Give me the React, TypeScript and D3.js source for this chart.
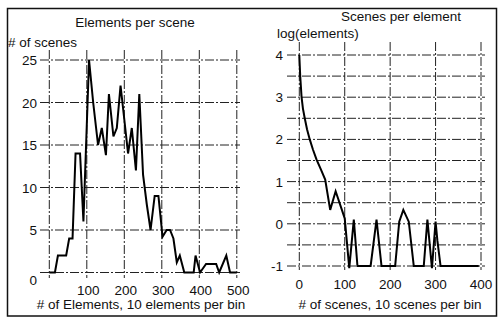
import React from "react";
import * as d3 from "d3";

// Left chart: Elements per scene
const leftX = [0, 15, 23, 45, 53, 62, 70, 82, 91, 106, 117, 130, 140, 151, 159, 171, 180, 190, 200, 210, 220, 231, 240, 250, 260, 270, 281, 291, 302, 313, 322, 331, 340, 348, 360, 385, 390, 402, 418, 445, 453, 472, 482, 500];
const leftY = [0, 0, 2, 2, 4, 4, 14, 14, 6, 25, 20, 15, 17, 13.8, 21, 16, 17, 22, 18, 14, 17, 12, 21, 11.5, 8, 5, 9, 9, 4.2, 5, 5, 4, 1.2, 2, 0, 0, 2, 0, 1, 1, 0, 2, 0, 0];
const leftYTicks = [5, 10, 15, 20, 25];
const leftYGrid = [0, 5, 10, 15, 20, 25];
const leftXTicks = [100, 200, 300, 400, 500];
const leftXGrid = [0, 100, 200, 300, 400, 500];

// Right chart: Scenes per element
const rightX = [0, 2, 5, 8, 12, 17, 23, 30, 38, 47, 57, 68, 80, 100, 110, 120, 128, 157, 170, 181, 211, 220, 229, 241, 252, 274, 282, 292, 300, 304, 311, 395];
const rightY = [4, 3.5, 3.0, 2.73, 2.5, 2.24, 2.0, 1.76, 1.52, 1.3, 1.05, 0.33, 0.77, 0.13, -1.05, 0.1, -1, -1, 0.1, -1, -1, 0.05, 0.33, 0.05, -1, -1, 0.1, -1.05, 0.05, -0.4, -1, -1];
const rightYTicks = [-1, 0, 1, 2, 3, 4];
const rightYGrid = [-1, -0.5, 0, 0.5, 1, 1.5, 2, 2.5, 3, 3.5, 4];
const rightXTicks = [0, 100, 200, 300, 400];

const FONT = "'Liberation Sans', Arial, Helvetica, sans-serif";
const DASH = "9,2,2,2";
const GRID = "#222";

export default function App() {
  const xL = d3.scaleLinear().domain([0, 500]).range([49.3, 236.8]);
  const yL = d3.scaleLinear().domain([0, 25]).range([272.5, 60]);
  const xR = d3.scaleLinear().domain([0, 400]).range([299.3, 481]);
  const yR = d3.scaleLinear().domain([-1, 4]).range([266, 55]);

  const lineL = d3
    .line<number>()
    .x((_, i) => xL(leftX[i]))
    .y((d) => yL(d));
  const lineR = d3
    .line<number>()
    .x((_, i) => xR(rightX[i]))
    .y((d) => yR(d));

  const txt = { fontFamily: FONT, fontSize: 13.5, fill: "#111" } as const;

  return (
    <svg
      width={499}
      height={321}
      style={{ position: "absolute", left: 0, top: 0, background: "#fff" }}
    >
      <rect x={0} y={0} width={499} height={321} fill="#fff" />
      {/* frame */}
      <rect x={7.5} y={8.5} width={489} height={307.5} fill="none" stroke="#111" strokeWidth={1.5} />

      {/* LEFT CHART */}
      <text x={135} y={27} textAnchor="middle" {...txt}>Elements per scene</text>
      <text x={8} y={47} {...txt}>{"# of scenes"}</text>
      {leftYGrid.map((v) => (
        <line key={"lg" + v} x1={40} x2={240} y1={yL(v)} y2={yL(v)} stroke={GRID} strokeWidth={1} strokeDasharray={DASH} />
      ))}
      {leftXGrid.map((v) => (
        <line key={"lv" + v} x1={xL(v)} x2={xL(v)} y1={50} y2={278} stroke={GRID} strokeWidth={1} strokeDasharray={DASH} />
      ))}
      {leftYTicks.map((v) => (
        <text key={"lt" + v} x={37} y={yL(v) + 5} textAnchor="end" {...txt}>{v}</text>
      ))}
      <text x={37} y={285} textAnchor="end" {...txt}>0</text>
      {leftXTicks.map((v) => (
        <text key={"lx" + v} x={xL(v) + 1.5} y={295} textAnchor="middle" {...txt}>{v}</text>
      ))}
      <text x={141} y={309} textAnchor="middle" {...txt}>{"# of Elements, 10 elements per bin"}</text>
      <path d={lineL(leftY) || ""} fill="none" stroke="#000" strokeWidth={2} strokeLinejoin="miter" />

      {/* RIGHT CHART */}
      <text x={401} y={21} textAnchor="middle" {...txt}>Scenes per element</text>
      <text x={277} y={38} {...txt}>log(elements)</text>
      {rightYGrid.map((v) => (
        <line key={"rg" + v} x1={287} x2={485} y1={yR(v)} y2={yR(v)} stroke={GRID} strokeWidth={1} strokeDasharray={DASH} />
      ))}
      {rightXTicks.map((v) => (
        <line key={"rv" + v} x1={xR(v)} x2={xR(v)} y1={42} y2={270} stroke={GRID} strokeWidth={1} strokeDasharray={DASH} />
      ))}
      {rightYTicks.map((v) => (
        <text key={"rt" + v} x={283} y={yR(v) + 5} textAnchor="end" {...txt}>{v}</text>
      ))}
      {rightXTicks.map((v) => (
        <text key={"rx" + v} x={xR(v)} y={289} textAnchor="middle" {...txt}>{v}</text>
      ))}
      <text x={390} y={309} textAnchor="middle" {...txt}>{"# of scenes, 10 scenes per bin"}</text>
      <path d={lineR(rightY) || ""} fill="none" stroke="#000" strokeWidth={2} strokeLinejoin="miter" />
    </svg>
  );
}
